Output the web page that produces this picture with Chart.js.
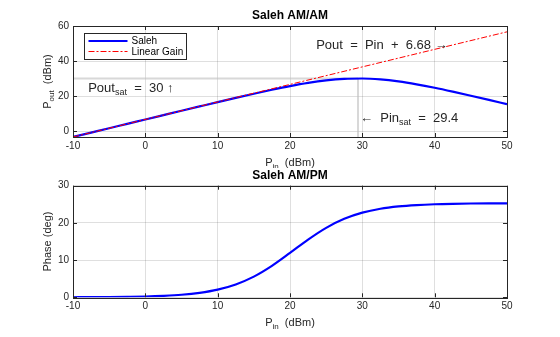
<!DOCTYPE html>
<html>
<head>
<meta charset="utf-8">
<script src="https://cdn.jsdelivr.net/npm/chart.js@4"></script>
<style>
  html, body { margin: 0; padding: 0; background: #fff; }
  #wrap { position: relative; width: 560px; height: 337px; }
  canvas { position: absolute; left: 0; }
</style>
</head>
<body>
<div id="wrap">
  <canvas id="amam" width="560" height="168" style="top:0px"></canvas>
  <canvas id="ampm" width="560" height="169" style="top:168px"></canvas>
</div>
<script>
// input power (dBm)
const pinValues = [-10, -7.5, -5, -2.5, 0, 2.5, 5, 7.5, 10, 12.5, 15, 17.5, 20,
  22.5, 25, 27.5, 30, 32.5, 35, 37.5, 40, 42.5, 45, 47.5, 50];
// Saleh AM/AM output power (dBm)
const poutSaleh = [-3.32, -0.82, 1.68, 4.17, 6.67, 9.16, 11.65, 14.12, 16.58, 19.0,
  21.37, 23.64, 25.74, 27.57, 28.99, 29.85, 30.04, 29.52, 28.37, 26.73, 24.76,
  22.56, 20.24, 17.85, 15.41];
// Saleh AM/PM phase (deg)
const phaseSaleh = [0.02, 0.04, 0.07, 0.13, 0.22, 0.40, 0.69, 1.21, 2.07, 3.46,
  5.56, 8.45, 11.92, 15.51, 18.67, 21.09, 22.75, 23.80, 24.43, 24.80, 25.02,
  25.14, 25.21, 25.25, 25.27];
// linear gain line
const linGainPin = [-10, 50];
const linGainPout = [-3.32, 56.68];
const linGain = 6.68;
// saturation point
const pinSat = 29.4;
const poutSat = 30;

const xTicks = [-10, 0, 10, 20, 30, 40, 50];
const yTicksAmAm = [0, 20, 40, 60];
const yTicksAmPm = [0, 10, 20, 30];

const FONT = '"Liberation Sans", Arial, Helvetica, sans-serif';
const TXT = '#262626';
const GRID = 'rgba(38,38,38,0.15)';

function pts(xs, ys) {
  return xs.map((x, i) => ({ x: x, y: ys[i] }));
}

// draw text made of [string, isSubscript] parts
function drawParts(ctx, parts, x, y, size, align) {
  const sub = Math.round(size * 0.72);
  let w = 0;
  parts.forEach(p => {
    ctx.font = (p[1] ? sub : size) + 'px ' + FONT;
    w += ctx.measureText(p[0]).width;
  });
  let cx = align === 'right' ? x - w : align === 'center' ? x - w / 2 : x;
  ctx.textAlign = 'left';
  ctx.textBaseline = 'alphabetic';
  parts.forEach(p => {
    ctx.font = (p[1] ? sub : size) + 'px ' + FONT;
    ctx.fillText(p[0], cx, p[1] ? y + size * 0.25 : y);
    cx += ctx.measureText(p[0]).width;
  });
}

const matlabAxes = {
  id: 'matlabAxes',
  afterDraw(chart, args, opts) {
    const ctx = chart.ctx;
    const a = chart.chartArea;
    const sx = chart.scales.x, sy = chart.scales.y;
    ctx.save();
    ctx.strokeStyle = TXT;
    ctx.lineWidth = 1;
    ctx.beginPath();
    sx.ticks.forEach(t => {
      const px = Math.round(sx.getPixelForValue(t.value)) + 0.5;
      ctx.moveTo(px, a.bottom); ctx.lineTo(px, a.bottom - 4);
      ctx.moveTo(px, a.top); ctx.lineTo(px, a.top + 4);
    });
    sy.ticks.forEach(t => {
      const py = Math.round(sy.getPixelForValue(t.value)) + 0.5;
      ctx.moveTo(a.left, py); ctx.lineTo(a.left + 4, py);
      ctx.moveTo(a.right, py); ctx.lineTo(a.right - 4, py);
    });
    ctx.stroke();
    ctx.strokeRect(Math.round(a.left) + 0.5, Math.round(a.top) + 0.5,
      Math.round(a.right - a.left), Math.round(a.bottom - a.top));

    ctx.fillStyle = '#000';
    // title
    ctx.font = 'bold 12px ' + FONT;
    ctx.textAlign = 'center';
    ctx.textBaseline = 'middle';
    ctx.fillText(opts.title, (a.left + a.right) / 2, a.top - 10);

    ctx.fillStyle = TXT;
    // x label
    drawParts(ctx, [['P', false], ['in', true], ['  (dBm)', false]],
      (a.left + a.right) / 2, a.bottom + 29, 11, 'center');
    // y label
    ctx.save();
    ctx.translate(a.left - 22, (a.top + a.bottom) / 2);
    ctx.rotate(-Math.PI / 2);
    drawParts(ctx, opts.ylabel, 0, 0, 11, 'center');
    ctx.restore();

    if (opts.extra) opts.extra(chart, ctx, a, sx, sy);
    ctx.restore();
  }
};

function baseScales(yMin, yMax, yTicks) {
  return {
    x: {
      type: 'linear', min: -10, max: 50,
      afterBuildTicks: s => { s.ticks = xTicks.map(v => ({ value: v })); },
      afterFit: s => { s.height = s.chart.height - s.chart.options.layout.padding.top - (s.chart.canvas.id === 'amam' ? 111 : 111.6); },
      grid: { color: GRID, drawTicks: false },
      border: { display: false },
      ticks: { color: TXT, padding: 3, font: { family: FONT, size: 10 }, maxRotation: 0 }
    },
    y: {
      type: 'linear', min: yMin, max: yMax,
      afterBuildTicks: s => { s.ticks = yTicks.map(v => ({ value: v })); },
      afterFit: s => { s.width = 73; },
      grid: { color: GRID, drawTicks: false },
      border: { display: false },
      ticks: { color: TXT, padding: 4, font: { family: FONT, size: 10 } }
    }
  };
}

new Chart(document.getElementById('amam'), {
  type: 'line',
  data: {
    datasets: [
      {
        label: 'Saleh',
        data: pts(pinValues, poutSaleh),
        borderColor: '#0000ff', borderWidth: 2.2,
        pointRadius: 0, cubicInterpolationMode: 'monotone', order: 1
      },
      {
        label: 'Linear Gain',
        data: pts(linGainPin, linGainPout),
        borderColor: '#ff0000', borderWidth: 1, borderDash: [6, 2, 2, 2],
        pointRadius: 0, order: 0
      },
      {
        label: 'sat-h',
        data: pts([-10, pinSat], [poutSat, poutSat]),
        borderColor: 'rgba(190,190,190,0.6)', borderWidth: 2,
        pointRadius: 0, order: 2
      },
      {
        label: 'sat-v',
        data: pts([pinSat, pinSat], [linGainPout[0], poutSat]),
        borderColor: 'rgba(190,190,190,0.6)', borderWidth: 2,
        pointRadius: 0, order: 2
      }
    ]
  },
  options: {
    responsive: false, animation: false,
    layout: { padding: { left: 0, right: 53, top: 26, bottom: 0 } },
    scales: baseScales(linGainPout[0], 60, yTicksAmAm),
    plugins: {
      legend: { display: false }, tooltip: { enabled: false },
      matlabAxes: {
        title: 'Saleh AM/AM',
        ylabel: [['P', false], ['out', true], ['  (dBm)', false]],
        extra: (chart, ctx, a, sx, sy) => {
          ctx.fillStyle = TXT;
          // linear gain annotation
          drawParts(ctx, [['Pout  =  Pin  +  ' + linGain + ' \u2192', false]],
            sx.getPixelForValue(41.8), sy.getPixelForValue(49.7) + 4.5, 13, 'right');
          // saturation annotations
          drawParts(ctx, [['Pout', false], ['sat', true], ['  =  ' + poutSat + ' \u2191', false]],
            sx.getPixelForValue(-7.9), sy.getPixelForValue(poutSat) + 13, 13, 'left');
          drawParts(ctx, [['\u2190  Pin', false], ['sat', true], ['  =  ' + pinSat, false]],
            sx.getPixelForValue(pinSat) + 2, sy.getPixelForValue(7.9) + 4.5, 13, 'left');
          // legend
          const ds = chart.data.datasets;
          const lx = 84.5, ly = 33.5, lw = 102, lh = 26;
          ctx.fillStyle = '#fff';
          ctx.fillRect(lx, ly, lw, lh);
          ctx.strokeStyle = TXT; ctx.lineWidth = 1;
          ctx.strokeRect(lx, ly, lw, lh);
          [0, 1].forEach((k, i) => {
            const yy = ly + 7.5 + i * 10.5;
            ctx.save();
            ctx.strokeStyle = ds[k].borderColor;
            ctx.lineWidth = ds[k].borderWidth;
            ctx.setLineDash(ds[k].borderDash || []);
            ctx.beginPath(); ctx.moveTo(lx + 4, yy); ctx.lineTo(lx + 43, yy); ctx.stroke();
            ctx.restore();
            ctx.fillStyle = '#000';
            ctx.font = '10px ' + FONT;
            ctx.textAlign = 'left'; ctx.textBaseline = 'middle';
            ctx.fillText(ds[k].label, lx + 47, yy + 0.5);
          });
        }
      }
    }
  },
  plugins: [matlabAxes]
});

new Chart(document.getElementById('ampm'), {
  type: 'line',
  data: {
    datasets: [{
      label: 'Saleh',
      data: pts(pinValues, phaseSaleh),
      borderColor: '#0000ff', borderWidth: 2.2,
      pointRadius: 0, cubicInterpolationMode: 'monotone'
    }]
  },
  options: {
    responsive: false, animation: false,
    layout: { padding: { left: 0, right: 53, top: 17.7, bottom: 0 } },
    scales: baseScales(0, 30, yTicksAmPm),
    plugins: {
      legend: { display: false }, tooltip: { enabled: false },
      matlabAxes: {
        title: 'Saleh AM/PM',
        ylabel: [['Phase (deg)', false]]
      }
    }
  },
  plugins: [matlabAxes]
});
</script>
</body>
</html>
